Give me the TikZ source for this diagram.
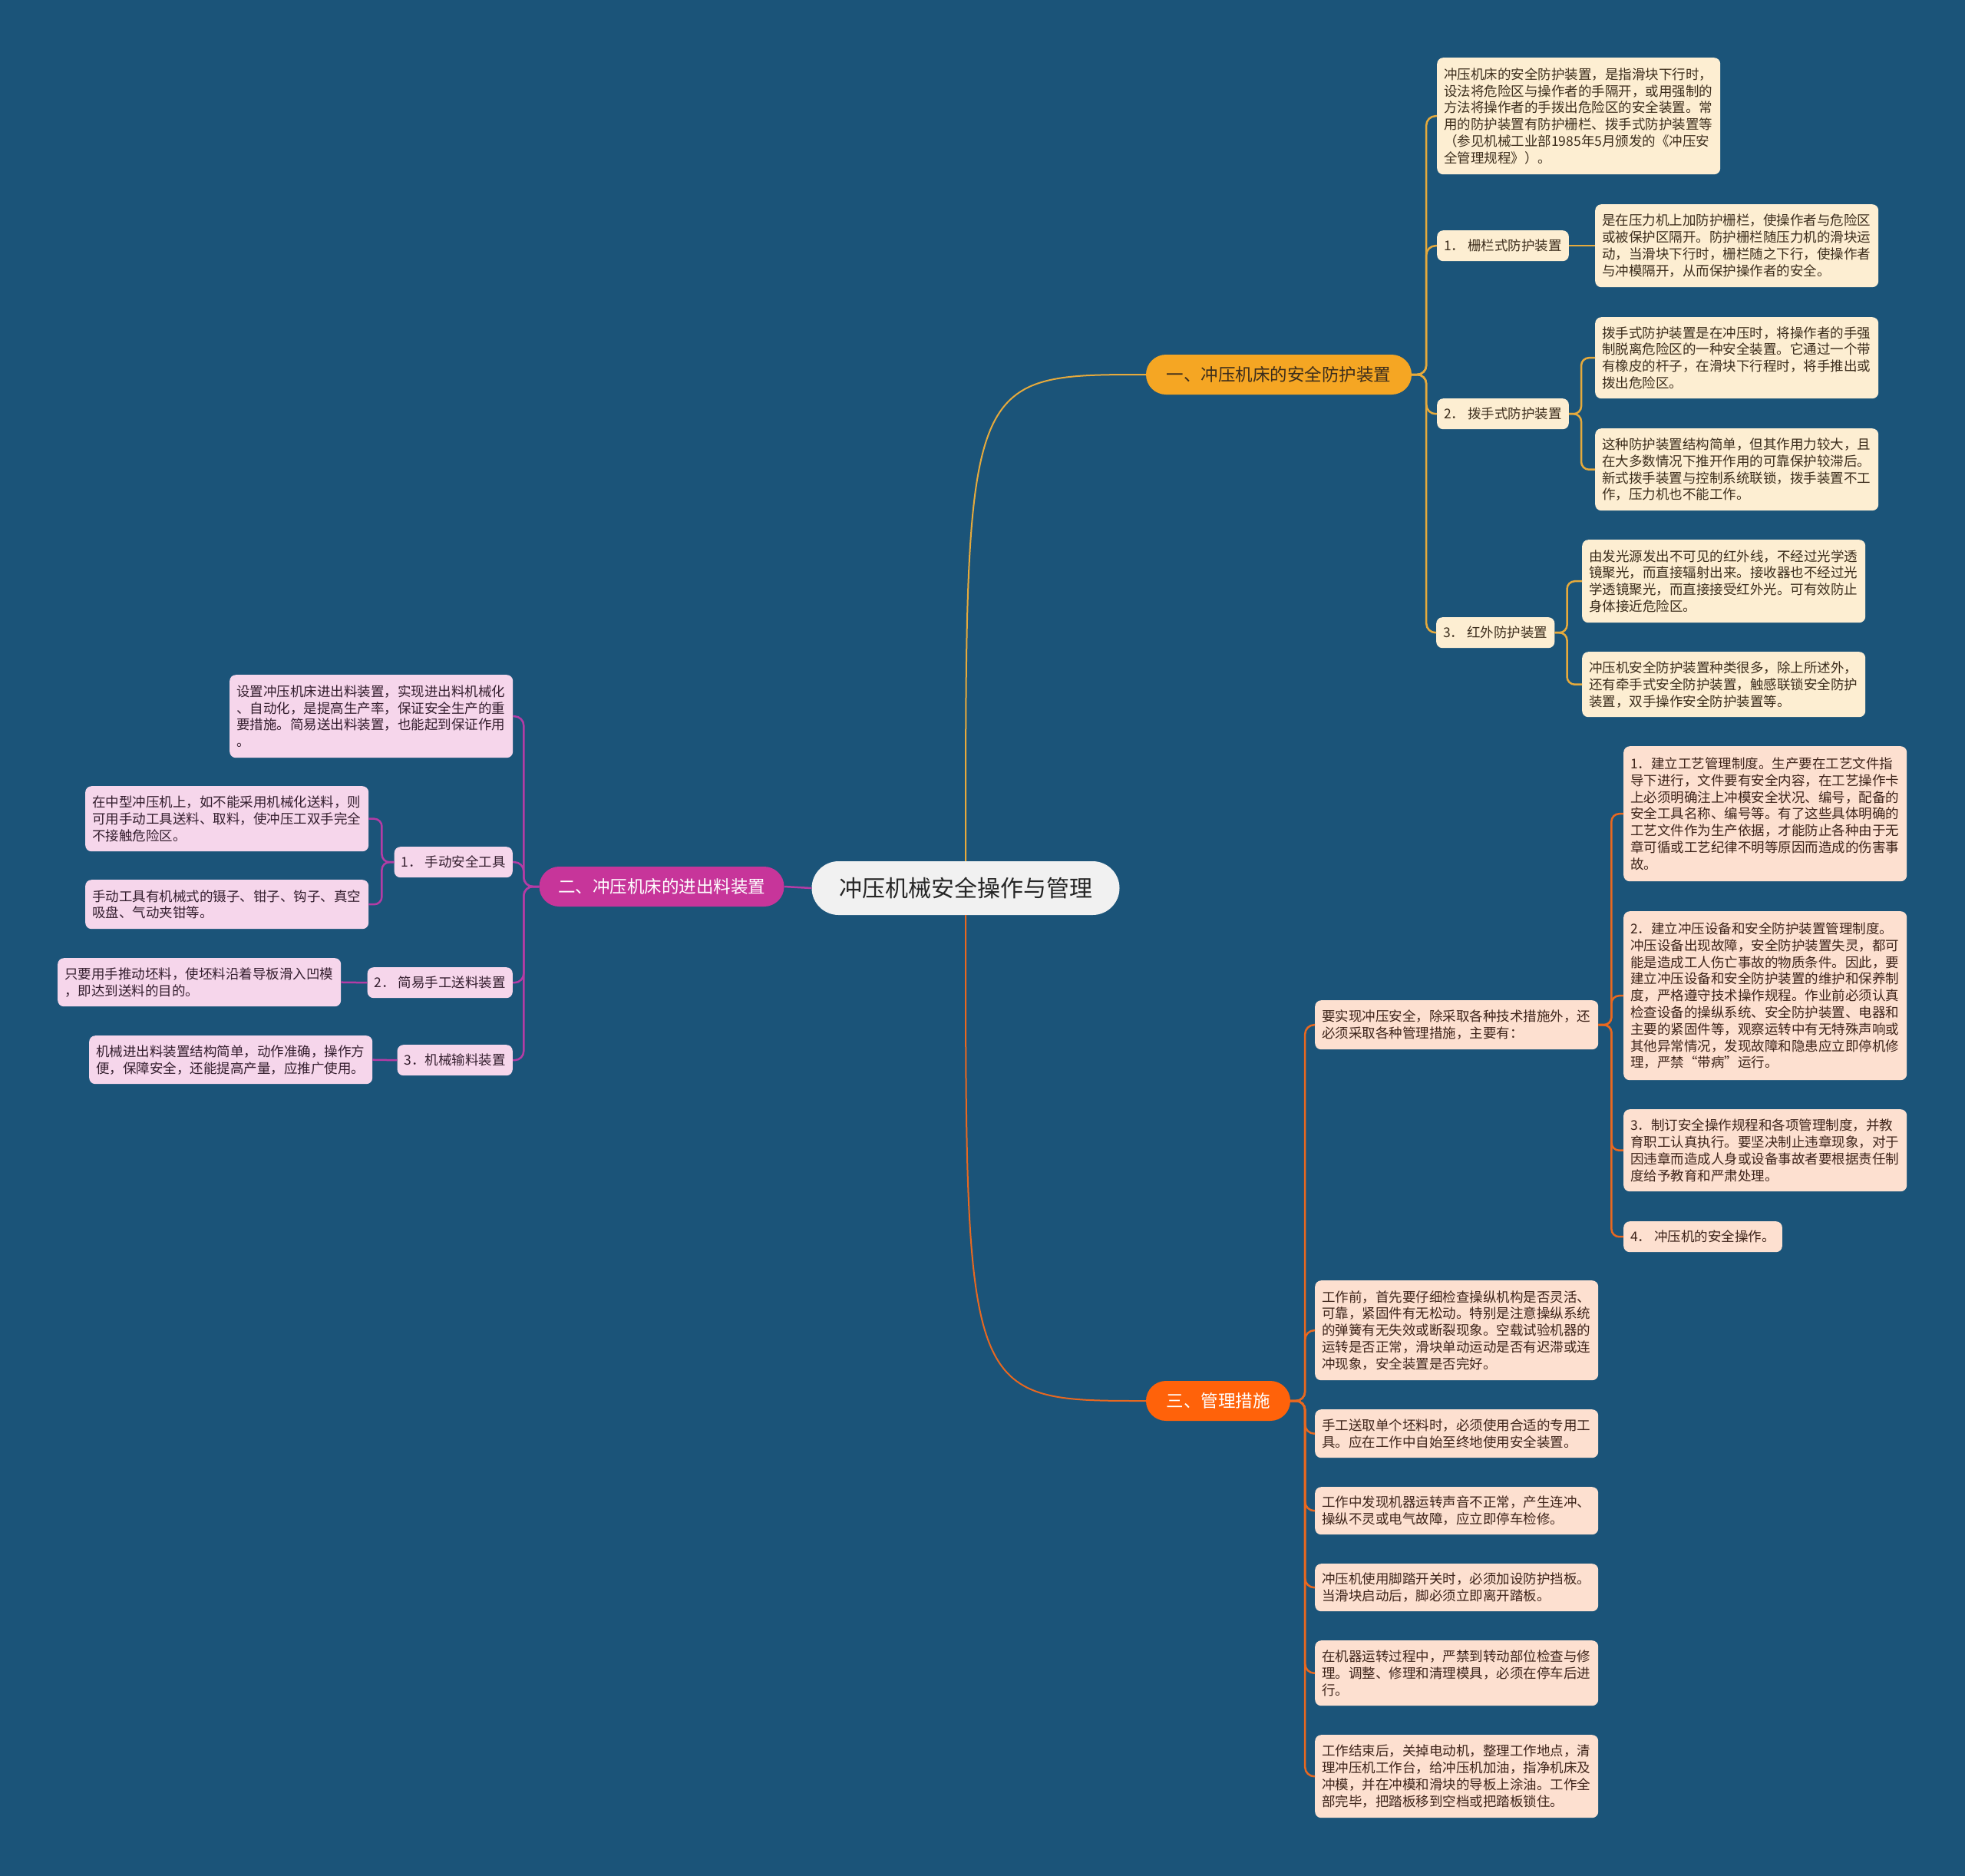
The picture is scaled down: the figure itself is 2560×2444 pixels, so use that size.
\documentclass[tikz,border=0pt]{standalone}
\usepackage{fontspec}
\newfontfamily\cjk{Noto Sans CJK SC}
\usetikzlibrary{calc}

\definecolor{bgblue}{RGB}{27,84,121}
\definecolor{rootgray}{RGB}{241,241,241}
\definecolor{yellowbr}{RGB}{245,166,35}
\definecolor{magentabr}{RGB}{199,53,154}
\definecolor{orangebr}{RGB}{255,98,10}
\definecolor{yellowln}{RGB}{230,170,60}
\definecolor{magentaln}{RGB}{180,60,165}
\definecolor{orangeln}{RGB}{232,104,32}
\definecolor{creambox}{RGB}{253,238,210}
\definecolor{pinkbox}{RGB}{246,214,235}
\definecolor{peachbox}{RGB}{253,224,208}
\definecolor{browntext}{RGB}{60,45,28}
\definecolor{plumtext}{RGB}{52,30,46}
\definecolor{rusttext}{RGB}{62,36,26}

\tikzset{
  box/.style={rounded corners=8pt, inner xsep=9pt, inner ysep=0pt, align=left,
    font={\cjk\fontsize{17.5}{21.8}\selectfont}},
  note/.style={box, text width=351pt},
  item/.style={box, minimum height=40pt},
  yel/.style={fill=creambox, text=browntext},
  mag/.style={fill=pinkbox, text=plumtext},
  ora/.style={fill=peachbox, text=rusttext},
  branch/.style={rounded corners=26pt, minimum height=52pt, inner sep=0pt,
    font={\cjk\fontsize{22.5}{27}\selectfont}},
  yline/.style={draw=yellowln, line width=2.5pt, rounded corners=12pt},
  mline/.style={draw=magentaln, line width=2.5pt, rounded corners=12pt},
  oline/.style={draw=orangeln, line width=2.5pt, rounded corners=12pt}
}

\begin{document}
\begin{tikzpicture}[x=1pt,y=-1pt]
\useasboundingbox (0,0) rectangle (2560,2444);
\fill[bgblue] (0,0) rectangle (2560,2444);

% centre and main branches
\node[fill=rootgray, text=black!85, rounded corners=35pt, minimum width=401pt,
  minimum height=70pt, font={\cjk\fontsize{30}{36}\selectfont}] (root) at (1258,1157) {冲压机械安全操作与管理};
\node[branch, fill=yellowbr, text=browntext, minimum width=346pt] (b1) at (1666,488) {一、冲压机床的安全防护装置};
\node[branch, fill=magentabr, text=white, minimum width=319pt] (b2) at (862,1155) {二、冲压机床的进出料装置};
\node[branch, fill=orangebr, text=white, minimum width=188pt] (b3) at (1587,1825) {三、管理措施};

% branch one
\node[note, yel, anchor=north west, minimum height=152pt] (guard) at (1872,75) {冲压机床的安全防护装置，是指滑块下行时，\\设法将危险区与操作者的手隔开，或用强制的\\方法将操作者的手拨出危险区的安全装置。常\\用的防护装置有防护栅栏、拨手式防护装置等\\（参见机械工业部1985年5月颁发的《冲压安\\全管理规程》）。};
\node[item, yel, anchor=north west] (fence) at (1872,300) {1． 栅栏式防护装置};
\node[note, yel, anchor=north west, minimum height=108pt] (fenceA) at (2078,266) {是在压力机上加防护栅栏，使操作者与危险区\\或被保护区隔开。防护栅栏随压力机的滑块运\\动，当滑块下行时，栅栏随之下行，使操作者\\与冲模隔开，从而保护操作者的安全。};
\node[item, yel, anchor=north west] (sweep) at (1872,519) {2． 拨手式防护装置};
\node[note, yel, anchor=north west, minimum height=106pt] (sweepA) at (2078,413) {拨手式防护装置是在冲压时，将操作者的手强\\制脱离危险区的一种安全装置。它通过一个带\\有橡皮的杆子，在滑块下行程时，将手推出或\\拨出危险区。};
\node[note, yel, anchor=north west, minimum height=107pt] (sweepB) at (2078,558) {这种防护装置结构简单，但其作用力较大，且\\在大多数情况下推开作用的可靠保护较滞后。\\新式拨手装置与控制系统联锁，拨手装置不工\\作，压力机也不能工作。};
\node[item, yel, anchor=north west] (infra) at (1871,804) {3． 红外防护装置};
\node[note, yel, anchor=north west, minimum height=108pt] (infraA) at (2061,703) {由发光源发出不可见的红外线，不经过光学透\\镜聚光，而直接辐射出来。接收器也不经过光\\学透镜聚光，而直接接受红外光。可有效防止\\身体接近危险区。};
\node[note, yel, anchor=north west, minimum height=85pt] (infraB) at (2061,849) {冲压机安全防护装置种类很多，除上所述外，\\还有牵手式安全防护装置，触感联锁安全防护\\装置，双手操作安全防护装置等。};

% branch two
\node[note, mag, anchor=north west, minimum height=108pt] (feed) at (299,879) {设置冲压机床进出料装置，实现进出料机械化\\、自动化，是提高生产率，保证安全生产的重\\要措施。简易送出料装置，也能起到保证作用\\。};
\node[item, mag, anchor=north east] (tool) at (668,1103) {1． 手动安全工具};
\node[note, mag, anchor=north west, minimum height=85pt] (toolA) at (111,1024) {在中型冲压机上，如不能采用机械化送料，则\\可用手动工具送料、取料，使冲压工双手完全\\不接触危险区。};
\node[note, mag, anchor=north west, minimum height=64pt] (toolB) at (111,1146) {手动工具有机械式的镊子、钳子、钩子、真空\\吸盘、气动夹钳等。};
\node[item, mag, anchor=north east] (hand) at (668,1260) {2． 简易手工送料装置};
\node[note, mag, anchor=north west, minimum height=63pt] (handA) at (75,1248) {只要用手推动坯料，使坯料沿着导板滑入凹模\\，即达到送料的目的。};
\node[item, mag, anchor=north east] (mech) at (668,1361) {3．机械输料装置};
\node[note, mag, anchor=north west, minimum height=63pt] (mechA) at (116,1349) {机械进出料装置结构简单，动作准确，操作方\\便，保障安全，还能提高产量，应推广使用。};

% branch three
\node[note, ora, anchor=north west, minimum height=64pt] (intro) at (1713,1303) {要实现冲压安全，除采取各种技术措施外，还\\必须采取各种管理措施，主要有：};
\node[note, ora, anchor=north west, minimum height=176pt] (rule1) at (2115,972) {1．建立工艺管理制度。生产要在工艺文件指\\导下进行，文件要有安全内容，在工艺操作卡\\上必须明确注上冲模安全状况、编号，配备的\\安全工具名称、编号等。有了这些具体明确的\\工艺文件作为生产依据，才能防止各种由于无\\章可循或工艺纪律不明等原因而造成的伤害事\\故。};
\node[note, ora, anchor=north west, minimum height=220pt] (rule2) at (2115,1187) {2．建立冲压设备和安全防护装置管理制度。\\冲压设备出现故障，安全防护装置失灵，都可\\能是造成工人伤亡事故的物质条件。因此，要\\建立冲压设备和安全防护装置的维护和保养制\\度，严格遵守技术操作规程。作业前必须认真\\检查设备的操纵系统、安全防护装置、电器和\\主要的紧固件等，观察运转中有无特殊声响或\\其他异常情况，发现故障和隐患应立即停机修\\理，严禁“带病”运行。};
\node[note, ora, anchor=north west, minimum height=107pt] (rule3) at (2115,1445) {3．制订安全操作规程和各项管理制度，并教\\育职工认真执行。要坚决制止违章现象，对于\\因违章而造成人身或设备事故者要根据责任制\\度给予教育和严肃处理。};
\node[item, ora, anchor=north west] (rule4) at (2115,1591) {4． 冲压机的安全操作。};
\node[note, ora, anchor=north west, minimum height=130pt] (work1) at (1713,1668) {工作前，首先要仔细检查操纵机构是否灵活、\\可靠，紧固件有无松动。特别是注意操纵系统\\的弹簧有无失效或断裂现象。空载试验机器的\\运转是否正常，滑块单动运动是否有迟滞或连\\冲现象，安全装置是否完好。};
\node[note, ora, anchor=north west, minimum height=63pt] (work2) at (1713,1836) {手工送取单个坯料时，必须使用合适的专用工\\具。应在工作中自始至终地使用安全装置。};
\node[note, ora, anchor=north west, minimum height=62pt] (work3) at (1713,1937) {工作中发现机器运转声音不正常，产生连冲、\\操纵不灵或电气故障，应立即停车检修。};
\node[note, ora, anchor=north west, minimum height=62pt] (work4) at (1713,2037) {冲压机使用脚踏开关时，必须加设防护挡板。\\当滑块启动后，脚必须立即离开踏板。};
\node[note, ora, anchor=north west, minimum height=85pt] (work5) at (1713,2137) {在机器运转过程中，严禁到转动部位检查与修\\理。调整、修理和清理模具，必须在停车后进\\行。};
\node[note, ora, anchor=north west, minimum height=108pt] (work6) at (1713,2260) {工作结束后，关掉电动机，整理工作地点，清\\理冲压机工作台，给冲压机加油，指净机床及\\冲模，并在冲模和滑块的导板上涂油。工作全\\部完毕，把踏板移到空档或把踏板锁住。};

% connectors
\draw[yline, line width=2pt] (root.north) .. controls (root.north |- b1.west) .. (b1.west);
\draw[oline, line width=2pt] (root.south) .. controls (root.south |- b3.west) .. (b3.west);
\draw[mline] (root.west) -- (b2.east);

\foreach \n in {guard,fence,sweep,infra}
  \draw[yline] (b1.east) -- ++(19,0) |- (\n.west);
\draw[yline] (fence.east) -- (fenceA.west);
\foreach \n in {sweepA,sweepB}
  \draw[yline, rounded corners=10pt] (sweep.east) -- ++(16,0) |- (\n.west);
\foreach \n in {infraA,infraB}
  \draw[yline, rounded corners=10pt] (infra.east) -- ++(16,0) |- (\n.west);

\foreach \n in {feed,tool,hand,mech}
  \draw[mline] (b2.west) -- ++(-20,0) |- (\n.east);
\foreach \n in {toolA,toolB}
  \draw[mline, rounded corners=10pt] (tool.west) -- ++(-16,0) |- (\n.east);
\draw[mline] (hand.west) -- (handA.east);
\draw[mline] (mech.west) -- (mechA.east);

\foreach \n in {intro,work1,work2,work3,work4,work5,work6}
  \draw[oline] (b3.east) -- ++(19,0) |- (\n.west);
\foreach \n in {rule1,rule2,rule3,rule4}
  \draw[oline, rounded corners=10pt] (intro.east) -- ++(17,0) |- (\n.west);
\end{tikzpicture}
\end{document}
